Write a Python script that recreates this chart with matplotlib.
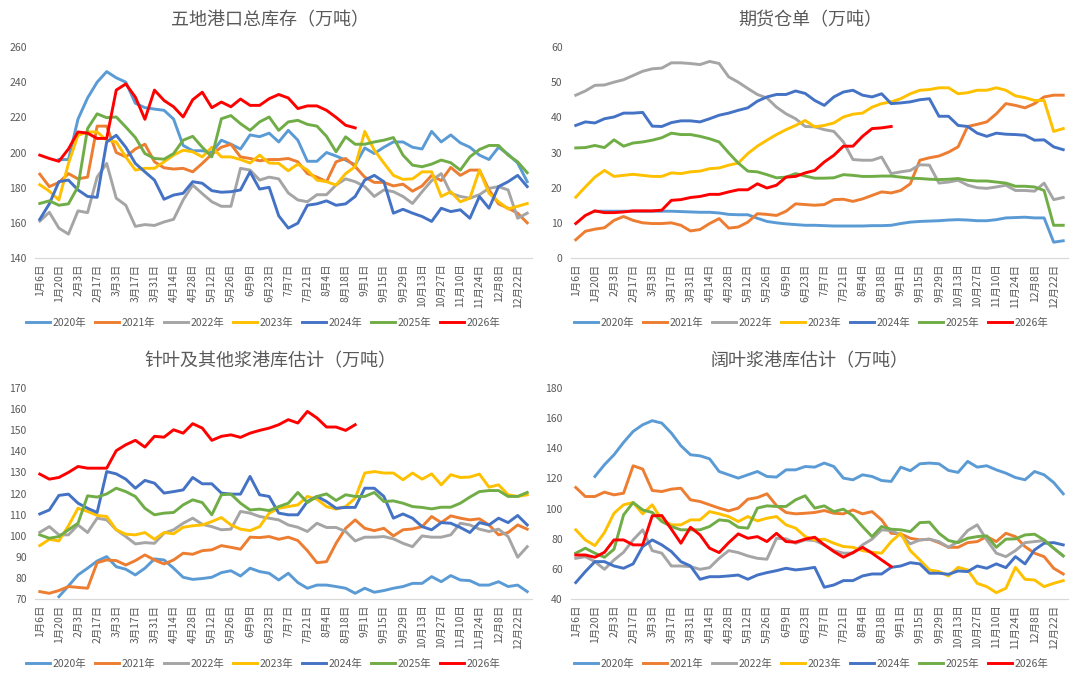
import numpy as np
import matplotlib
matplotlib.use('Agg')
from matplotlib import pyplot as plt

plt.rcParams['font.family'] = ['Noto Sans CJK SC', 'DejaVu Sans']

nan = np.nan

# x categories: weekly, 52 points; every second one labelled
weeks = ['1月6日', '1月13日', '1月20日', '1月27日', '2月3日', '2月10日', '2月17日', '2月24日',
         '3月3日', '3月10日', '3月17日', '3月24日', '3月31日', '4月7日', '4月14日', '4月21日',
         '4月28日', '5月5日', '5月12日', '5月19日', '5月26日', '6月2日', '6月9日', '6月16日',
         '6月23日', '6月30日', '7月7日', '7月14日', '7月21日', '7月28日', '8月4日', '8月11日',
         '8月18日', '8月25日', '9月1日', '9月8日', '9月15日', '9月22日', '9月29日', '10月6日',
         '10月13日', '10月20日', '10月27日', '11月3日', '11月10日', '11月17日', '11月24日',
         '12月1日', '12月8日', '12月15日', '12月22日', '12月29日']
years = ['2020年', '2021年', '2022年', '2023年', '2024年', '2025年', '2026年']

# ---- 五地港口总库存 ----
p1_2020 = [nan, nan, 196, 196, 219, 231, 240, 246, 242.5, 240, 228, 225.5, 224.7, 224, 219, 204,
           201, 201, 200, 207, 204.7, 202, 210, 209, 211, 206, 212.6, 207, 195, 195, 200, 198,
           195.7, 193, 202.6, 199.4, 203, 206, 206, 203, 202, 212, 206, 210, 205.5, 203, 198.5,
           196, 203, 199, 194, 183.4]
p1_2021 = [187.7, 180.6, 183, 188, 185, 186, 215, 215, 200, 197.5, 202, 204.7, 194.7, 191.3, 190.6,
           191, 189, 193.8, 199, 203, 204.7, 197.5, 196.6, 195.3, 196, 196, 196.6, 194.7, 188, 186,
           183.4, 194.7, 196.6, 192, 186, 183, 183, 181, 182, 178, 181, 187, 184, 191.5, 187, 190,
           190, 178.7, 170.8, 168.3, 165.5, 160]
p1_2022 = [161, 166, 157, 153.6, 166.8, 165.8, 186, 193.8, 174, 170, 158, 159, 158.5, 160.5, 162,
           173, 181.5, 176.6, 172, 169.4, 169.4, 191, 190, 184.3, 186, 185, 177, 173, 172, 176, 176,
           181.5, 185, 183.4, 180.6, 175, 178.7, 177.7, 175, 171, 177.7, 184, 188, 176.8, 175, 174,
           176, 179.6, 180.6, 178.7, 162.6, 165.5]
p1_2023 = [181.7, 178, 173, 193.8, 209.8, 211.7, 211.7, 207, 206, 197.5, 190, 191, 191, 194.7, 198.5,
           201.3, 200.4, 197.5, 203, 197.5, 197.5, 196, 194, 198.5, 194, 193.8, 189.6, 193.4, 190,
           184.3, 183.4, 181.5, 188, 192, 212, 201.3, 194, 187, 184.7, 185, 189, 189, 175, 177.7,
           172, 174, 190, 176.8, 172, 167.9, 169.4, 171]
p1_2024 = [162, 170.8, 183.4, 184.3, 178.7, 175, 174.5, 206, 209.8, 203, 193.8, 189, 184.3, 173.4,
           175.8, 176.8, 183.4, 182.5, 178.3, 177.4, 177.7, 178.7, 189, 179.2, 180.2, 164, 157, 159.8,
           170, 170.8, 172.5, 170, 170.8, 175, 184.3, 187, 183.4, 165.5, 167.7, 165.5, 163.6, 160.8,
           168.3, 166.4, 167.4, 162.6, 175, 168.3, 180.6, 183.4, 187, 180.6]
p1_2025 = [171, 172.5, 170, 170.8, 180.6, 213.6, 222, 219.8, 220.2, 214.5, 208.5, 199.4, 196.6, 196.2,
           199.4, 207, 209.2, 203, 197.5, 219.2, 221, 216.4, 212.6, 217.4, 220.2, 212.6, 217.4, 218.3,
           216, 215, 209.2, 200.4, 208.9, 204.7, 204.7, 206, 207, 208.5, 198.5, 192.8, 191.9, 193.4,
           195.7, 194.2, 190, 197.5, 201.7, 204, 204, 198.5, 194.7, 188.5]
p1_2026 = [198.5, 196.6, 195, 202, 211.7, 211, 208, 208, 235.5, 239, 231.5, 218.9, 235.5, 229.6, 226,
           220.2, 230, 234.3, 225.5, 228.7, 226, 230.4, 226.8, 226.8, 230.6, 233, 231, 225, 226.5,
           226.5, 224, 220, 215.5, 214]

# ---- 期货仓单 ----
p2_2020 = [nan, nan, 13.3, 13.3, 13.3, 13.3, 13.3, 13.3, 13.3, 13.3, 13.3, 13.2, 13.1, 13.0, 13.0,
           12.8, 12.4, 12.3, 12.3, 11.3, 10.4, 10.0, 9.7, 9.5, 9.3, 9.3, 9.2, 9.1, 9.1, 9.1, 9.1,
           9.2, 9.2, 9.3, 9.8, 10.2, 10.4, 10.5, 10.6, 10.8, 10.9, 10.8, 10.6, 10.6, 10.9, 11.4,
           11.5, 11.6, 11.4, 11.4, 4.5, 4.9]
p2_2021 = [5.2, 7.6, 8.2, 8.6, 10.7, 11.8, 10.7, 10.0, 9.8, 9.8, 10.0, 9.3, 7.7, 8.1, 9.8, 11.2, 8.5,
           8.8, 10.2, 12.6, 12.4, 12.1, 13.3, 15.4, 15.2, 15.0, 15.2, 16.6, 16.7, 16.1, 16.8, 17.8,
           18.8, 18.5, 19.2, 21.1, 27.8, 28.5, 29.0, 30.1, 31.6, 37.4, 38.0, 38.7, 41.0, 43.9, 43.4,
           42.7, 43.9, 45.8, 46.3, 46.3]
p2_2022 = [46.3, 47.5, 49.1, 49.2, 50.0, 50.7, 51.9, 53.1, 53.8, 54.0, 55.5, 55.5, 55.3, 55.0, 55.9,
           55.3, 51.5, 50.0, 48.2, 46.5, 45.5, 42.9, 41.0, 39.6, 37.4, 37.3, 36.5, 36.0, 33.0, 28.0,
           27.8, 27.8, 28.7, 24.0, 24.5, 24.9, 26.5, 26.4, 21.3, 21.6, 22.1, 20.7, 20.0, 19.8, 20.2,
           20.7, 19.2, 19.2, 19.0, 21.3, 16.6, 17.2]
p2_2023 = [17.3, 20.2, 23.0, 24.9, 23.2, 23.5, 23.8, 23.5, 23.2, 23.2, 24.2, 24.0, 24.5, 24.7, 25.4,
           25.6, 26.4, 27.0, 29.7, 31.8, 33.5, 35.1, 36.5, 37.7, 39.1, 37.3, 37.7, 38.4, 40.1, 40.9,
           41.2, 42.9, 43.9, 44.4, 45.3, 46.7, 47.7, 47.9, 48.4, 48.4, 46.7, 47.0, 47.7, 47.7, 48.4,
           47.7, 46.1, 45.6, 44.8, 44.8, 36.0, 36.8]
p2_2024 = [37.7, 38.7, 38.4, 39.6, 40.1, 41.2, 41.2, 41.4, 37.5, 37.4, 38.5, 39.0, 39.0, 38.7, 39.6,
           40.6, 41.2, 42.0, 42.7, 44.6, 45.8, 46.5, 46.5, 47.5, 46.8, 44.8, 43.4, 45.8, 47.2, 47.7,
           46.3, 45.8, 46.7, 43.9, 44.1, 44.4, 45.0, 45.3, 40.3, 40.3, 37.7, 37.4, 35.5, 34.6, 35.5,
           35.2, 35.1, 34.9, 33.5, 33.6, 31.6, 30.8]
p2_2025 = [31.3, 31.4, 32.0, 31.4, 33.6, 31.8, 32.7, 33.0, 33.5, 34.2, 35.5, 35.1, 35.1, 34.6, 33.9,
           33.0, 29.9, 27.0, 24.7, 24.5, 23.7, 22.8, 23.0, 24.0, 23.3, 22.7, 22.7, 22.8, 23.7, 23.5,
           23.2, 23.2, 23.3, 23.3, 23.0, 22.7, 22.6, 22.4, 22.3, 22.4, 22.6, 22.1, 21.9, 21.9, 21.6,
           21.3, 20.4, 20.4, 20.2, 19.2, 9.3, 9.3]
p2_2026 = [9.8, 12.1, 13.4, 12.9, 12.9, 13.1, 13.4, 13.4, 13.4, 13.6, 16.4, 16.6, 17.2, 17.5, 18.1,
           18.1, 18.8, 19.4, 19.4, 21.1, 19.9, 20.7, 23.0, 23.2, 24.2, 24.9, 27.3, 29.2, 31.8, 31.8,
           34.6, 36.8, 37.0, 37.4]

# ---- 针叶及其他浆港库估计 ----
p3_2020 = [nan, nan, 71.1, 76.2, 81.4, 84.6, 88.0, 90.1, 85.3, 84.1, 81.4, 84.6, 89.0, 88.5, 84.6,
           80.3, 79.3, 79.7, 80.3, 82.5, 83.4, 80.9, 84.6, 83.0, 82.2, 79.0, 82.2, 77.8, 75.1, 76.6,
           76.6, 75.9, 75.1, 72.7, 75.1, 73.2, 74.0, 75.1, 75.9, 77.4, 77.4, 80.6, 78.2, 81.1, 79.0,
           78.7, 76.6, 76.6, 78.2, 75.9, 76.6, 73.5]
p3_2021 = [73.5, 72.7, 74.0, 75.9, 75.5, 75.1, 87.2, 88.5, 88.2, 86.1, 88.2, 90.9, 88.5, 86.6, 88.5,
           91.7, 91.2, 92.9, 93.3, 95.3, 94.5, 93.6, 99.3, 99.1, 99.6, 98.3, 99.3, 97.7, 92.9, 87.2,
           87.7, 96.4, 103.5, 107.5, 103.5, 102.4, 103.5, 99.9, 102.8, 103.2, 104.3, 109.1, 106.2,
           109.4, 108.3, 107.5, 108.0, 105.1, 100.4, 101.5, 105.1, 103.1]
p3_2022 = [101.6, 104.3, 100.4, 100.4, 105.1, 101.5, 108.3, 107.5, 102.8, 99.6, 96.1, 96.7, 96.4,
           101.2, 102.8, 105.9, 108.3, 105.4, 104.3, 102.8, 103.1, 111.5, 110.7, 109.1, 108.3, 107.5,
           105.1, 104.0, 102.0, 105.9, 103.9, 103.9, 102.0, 97.5, 99.3, 99.3, 99.6, 98.5, 96.4, 94.8,
           99.9, 99.3, 99.3, 100.4, 105.9, 105.1, 103.1, 102.0, 103.1, 99.6, 89.8, 94.8]
p3_2023 = [95.3, 98.3, 97.5, 104.7, 113.0, 111.5, 109.6, 109.1, 102.8, 100.7, 100.4, 101.5, 98.3,
           101.5, 100.9, 104.0, 104.7, 105.1, 106.7, 108.6, 105.1, 103.1, 102.4, 104.3, 110.7, 113.0,
           113.8, 114.6, 118.6, 117.3, 113.8, 112.6, 113.8, 117.8, 129.7, 130.4, 129.7, 129.7, 126.5,
           129.7, 126.8, 129.3, 124.1, 128.9, 127.6, 127.8, 129.2, 123.0, 124.1, 119.4, 118.6, 119.4]
p3_2024 = [110.3, 112.2, 119.1, 119.7, 115.4, 113.0, 111.0, 130.4, 129.3, 126.8, 122.5, 126.2, 124.9,
           120.2, 120.9, 121.7, 127.6, 124.6, 124.6, 120.2, 119.7, 119.7, 128.1, 119.4, 118.6, 110.7,
           109.9, 109.9, 116.2, 118.6, 116.2, 113.0, 113.4, 113.4, 122.5, 122.5, 118.6, 108.3, 110.3,
           108.3, 104.3, 102.8, 106.2, 105.9, 103.9, 101.5, 106.2, 105.1, 108.3, 106.2, 109.6, 105.1]
p3_2025 = [100.4, 98.8, 99.6, 102.8, 105.9, 118.9, 118.3, 119.8, 122.5, 120.9, 118.6, 113.0, 109.9,
           110.7, 111.0, 114.6, 117.0, 115.7, 109.9, 119.4, 119.7, 115.4, 112.2, 112.6, 111.9, 113.8,
           115.4, 120.5, 115.7, 118.6, 119.8, 116.7, 119.4, 118.6, 118.6, 120.5, 116.2, 116.5, 115.4,
           113.8, 113.4, 112.7, 113.5, 113.5, 115.4, 118.3, 120.9, 121.4, 121.4, 118.6, 118.6, 120.5]
p3_2026 = [129.2, 126.8, 127.6, 130.0, 132.8, 132.0, 132.0, 132.0, 140.3, 143.1, 145.2, 142.0, 147.1,
           146.7, 150.2, 148.6, 153.1, 151.0, 145.2, 147.1, 147.8, 146.6, 148.6, 149.9, 151.0, 152.6,
           155.0, 153.4, 158.9, 155.8, 151.5, 151.5, 149.9, 152.6]

# ---- 阔叶浆港库估计 ----
p4_2020 = [nan, nan, 121.3, 129.1, 135.7, 143.9, 151.2, 155.6, 158.3, 156.7, 150.1, 141.7, 135.7,
           135.0, 133.0, 124.6, 122.4, 120.2, 122.4, 124.6, 121.3, 120.9, 125.7, 125.7, 127.9, 127.5,
           130.2, 127.9, 120.2, 119.1, 122.4, 121.3, 118.6, 118.0, 127.5, 125.1, 129.7, 130.2, 129.7,
           125.3, 124.0, 131.3, 127.5, 128.4, 125.7, 123.5, 120.6, 119.1, 124.6, 122.4, 117.3, 109.8]
p4_2021 = [114.0, 108.0, 108.0, 110.9, 109.1, 110.2, 128.4, 126.2, 112.0, 111.3, 112.9, 113.5, 105.8,
           104.7, 102.5, 100.3, 98.5, 100.3, 106.2, 107.3, 109.8, 102.0, 97.4, 96.5, 96.9, 97.4, 98.7,
           96.9, 96.5, 99.1, 96.5, 98.0, 92.5, 83.6, 83.2, 80.3, 79.2, 79.7, 77.4, 74.3, 74.3, 77.4,
           78.1, 81.4, 78.1, 83.6, 81.4, 74.8, 70.4, 68.1, 60.4, 56.6]
p4_2022 = [67.0, 68.1, 64.8, 59.7, 65.9, 71.0, 79.2, 85.9, 72.1, 70.4, 61.9, 61.9, 61.5, 59.7, 60.8,
           67.0, 72.1, 70.8, 68.6, 67.0, 66.4, 80.3, 79.9, 77.0, 79.2, 78.8, 75.9, 72.1, 70.4, 70.4,
           75.9, 79.7, 85.9, 85.4, 82.5, 76.6, 79.2, 79.7, 78.1, 74.3, 78.1, 85.4, 89.2, 79.2, 70.4,
           68.1, 72.1, 77.4, 78.1, 78.8, 73.7, 68.6]
p4_2023 = [85.9, 79.2, 75.4, 84.1, 96.9, 102.5, 104.0, 96.5, 102.5, 92.5, 89.2, 89.2, 92.5, 92.5, 98.0,
           96.5, 94.7, 91.4, 94.7, 91.8, 93.6, 94.7, 89.2, 87.0, 81.5, 79.2, 79.7, 77.0, 74.8, 74.3,
           72.1, 71.0, 70.4, 78.1, 83.6, 72.1, 65.9, 59.3, 58.2, 55.3, 61.0, 59.3, 50.4, 48.2, 44.2,
           47.1, 61.0, 53.1, 52.6, 48.2, 50.4, 52.2]
p4_2024 = [50.9, 58.2, 64.8, 64.8, 61.9, 60.4, 63.3, 74.8, 79.2, 75.9, 71.5, 64.8, 61.9, 53.1, 54.8,
           54.8, 55.3, 55.9, 53.1, 55.9, 57.5, 58.8, 60.4, 59.3, 60.0, 61.0, 47.8, 49.3, 52.2, 52.2,
           55.3, 56.6, 56.6, 61.0, 61.9, 64.1, 63.3, 57.1, 57.1, 56.4, 58.6, 58.2, 61.9, 60.4, 63.3,
           60.8, 68.1, 63.3, 72.6, 77.0, 77.4, 75.9]
p4_2025 = [70.4, 73.7, 70.4, 67.7, 73.0, 95.8, 104.0, 99.1, 97.4, 91.4, 88.1, 85.9, 85.9, 85.9, 88.1,
           92.5, 91.8, 87.6, 87.0, 100.3, 101.8, 101.4, 101.4, 105.8, 108.5, 100.3, 101.8, 98.0, 99.6,
           95.2, 88.1, 81.4, 88.1, 86.3, 85.9, 84.7, 90.7, 91.0, 83.6, 78.8, 77.4, 80.3, 81.4, 81.9,
           74.3, 79.7, 79.9, 82.5, 83.0, 79.2, 73.7, 68.6]
p4_2026 = [69.2, 69.2, 67.7, 71.0, 79.2, 79.2, 75.9, 75.9, 95.2, 95.4, 86.3, 77.0, 87.6, 82.5, 73.7,
           70.8, 77.4, 83.2, 80.3, 81.4, 78.1, 83.6, 78.1, 77.7, 79.7, 81.0, 75.9, 71.5, 67.7, 70.8,
           74.3, 70.4, 65.9, 61.5]

colours = ['#5B9BD5', '#ED7D31', '#A5A5A5', '#FFC000', '#4472C4', '#70AD47', '#FF0000']
grey = '#595959'

panels = [
    ('五地港口总库存（万吨）', [p1_2020, p1_2021, p1_2022, p1_2023, p1_2024, p1_2025, p1_2026],
     (140, 260, 20), (35, 532, 47, 258)),
    ('期货仓单（万吨）', [p2_2020, p2_2021, p2_2022, p2_2023, p2_2024, p2_2025, p2_2026],
     (0, 60, 10), (571, 1068, 47, 258)),
    ('针叶及其他浆港库估计（万吨）', [p3_2020, p3_2021, p3_2022, p3_2023, p3_2024, p3_2025, p3_2026],
     (70, 170, 10), (35, 532, 388, 599)),
    ('阔叶浆港库估计（万吨）', [p4_2020, p4_2021, p4_2022, p4_2023, p4_2024, p4_2025, p4_2026],
     (40, 180, 20), (571, 1068, 388, 599)),
]

W, H = 1080, 683
fig = plt.figure(figsize=(W / 100, H / 100), dpi=100)

for title, series, (ymin, ymax, ystep), (l, r, t, b) in panels:
    ax = fig.add_axes([l / W, 1 - b / H, (r - l) / W, (b - t) / H])
    for name, vals, c in zip(years, series, colours):
        y = np.array(vals, dtype=float)
        ax.plot(np.arange(len(y)), y, color=c, lw=2.1, label=name, solid_joinstyle='round')
    ax.set_xlim(-0.5, len(weeks) - 0.5)
    ax.set_ylim(ymin, ymax)
    ax.set_yticks(np.arange(ymin, ymax + 1, ystep))
    ax.set_xticks(np.arange(0, len(weeks), 2))
    ax.set_xticklabels(weeks[::2], rotation=90)
    ax.tick_params(axis='both', length=0, labelsize=7.5, labelcolor=grey)
    ax.tick_params(axis='y', pad=6)
    ax.tick_params(axis='x', pad=4)
    for s in ['top', 'right', 'left']:
        ax.spines[s].set_visible(False)
    ax.spines['bottom'].set_color('#D9D9D9')
    ax.spines['bottom'].set_linewidth(0.9)
    ax.patch.set_alpha(0)

    cx = 270 if l < 300 else 810
    fig.text(cx / W, 1 - (t - 27) / H, title, ha='center', va='center',
             fontsize=13, color=grey)
    lx = 263 if l < 300 else 811
    ax.legend(loc='center', bbox_to_anchor=(lx / W, 1 - (b + 65) / H),
              bbox_transform=fig.transFigure, ncol=7, frameon=False, fontsize=7.5,
              handlelength=2.3, handletextpad=0.25, columnspacing=0.85, labelcolor=grey)

fig.savefig('out.png', dpi=100, facecolor='white')
